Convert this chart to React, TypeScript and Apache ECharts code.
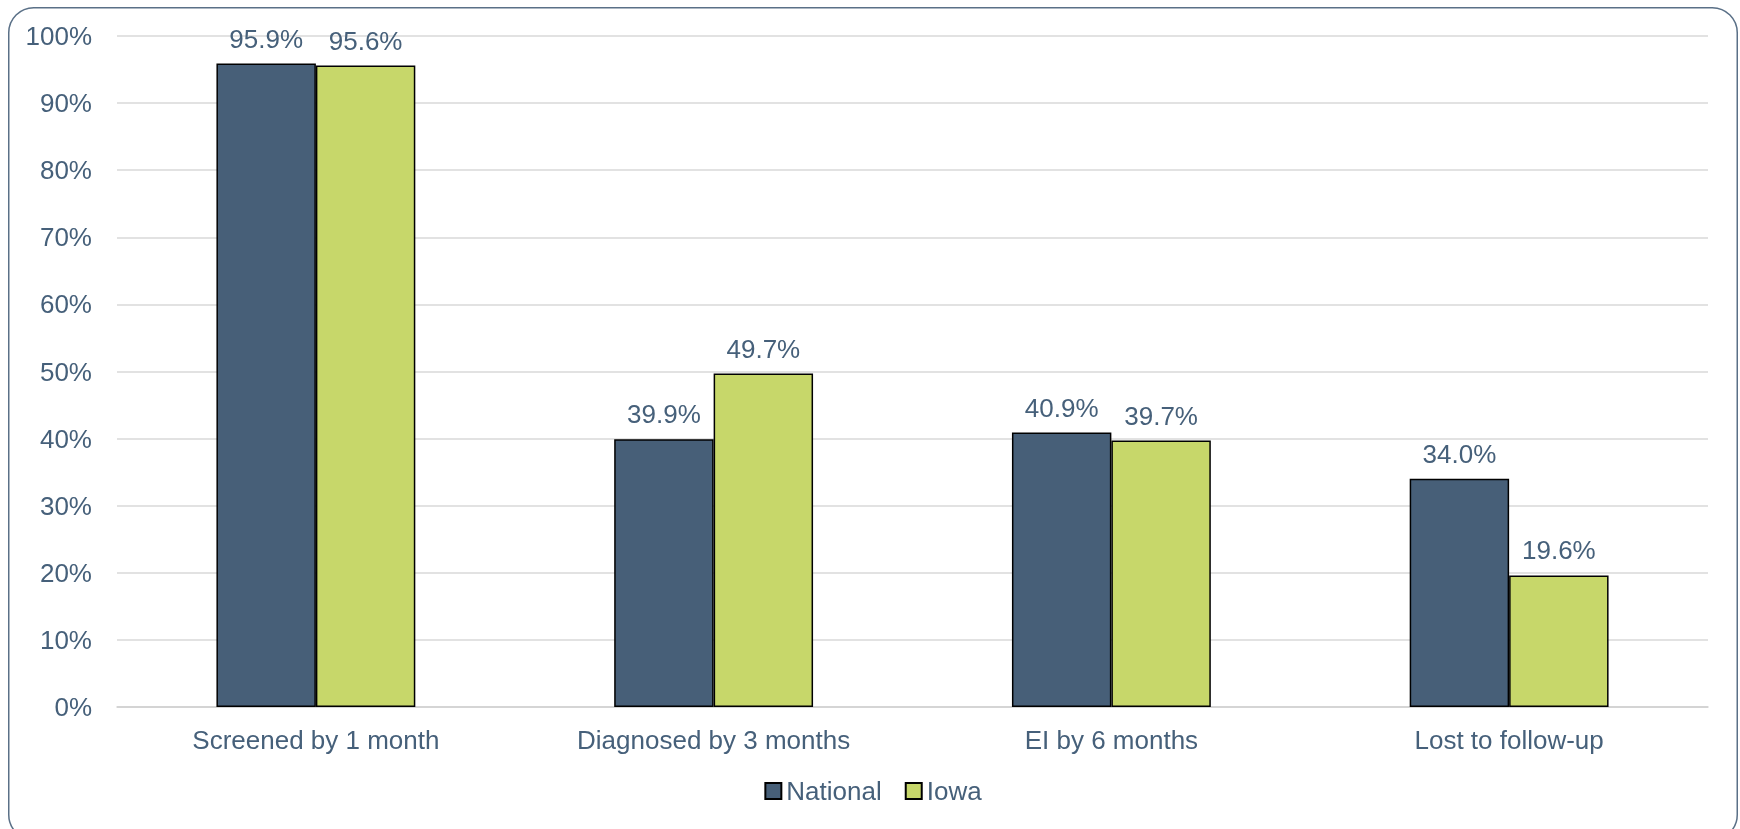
import React, { useEffect, useRef } from "react";
import * as echarts from "echarts";

const categories = ["Screened by 1 month", "Diagnosed by 3 months", "EI by 6 months", "Lost to follow-up"];
const nationalValues = [95.9, 39.9, 40.9, 34.0];
const iowaValues = [95.6, 49.7, 39.7, 19.6];
const seriesNames = ["National", "Iowa"];

const TEXT = "#46607a";
const FONT = "'Liberation Sans', Arial, sans-serif";

export default function App() {
  const ref = useRef<HTMLDivElement>(null);
  useEffect(() => {
    if (!ref.current) return;
    const chart = echarts.init(ref.current, null, { renderer: "svg" });
    const label = {
      show: true,
      position: "top",
      distance: 12,
      color: TEXT,
      fontSize: 26,
      fontFamily: FONT,
      formatter: (p: any) => Number(p.value).toFixed(1) + "%",
    };
    chart.setOption({
      animation: false,
      textStyle: { fontFamily: FONT },
      graphic: [
        {
          type: "rect",
          shape: { x: 0.75, y: 0.75, width: 1728.5, height: 832, r: 25 },
          style: { fill: "none", stroke: "#5a7087", lineWidth: 1.5 },
          silent: true,
        },
      ],
      grid: { left: 109, right: 30, top: 29, bottom: 122, containLabel: false },
      legend: {
        bottom: 20,
        left: "center",
        itemWidth: 16,
        itemHeight: 16,
        itemGap: 23,
        icon: "rect",
        textStyle: { color: TEXT, fontSize: 26, fontFamily: FONT },
        data: seriesNames,
      },
      xAxis: {
        type: "category",
        data: categories,
        axisTick: { show: false },
        axisLine: { lineStyle: { color: "#d0d0d0", width: 1.5 } },
        axisLabel: { color: TEXT, fontSize: 26, fontFamily: FONT, margin: 20 },
      },
      yAxis: {
        type: "value",
        min: 0,
        max: 100,
        interval: 10,
        axisLine: { show: false },
        axisTick: { show: false },
        splitLine: { lineStyle: { color: "#d9d9d9", width: 1.5 } },
        axisLabel: { color: TEXT, fontSize: 26, fontFamily: FONT, margin: 25, formatter: "{value}%" },
      },
      series: [
        {
          name: seriesNames[0],
          type: "bar",
          data: nationalValues,
          barGap: "0%",
          barCategoryGap: "50%",
          itemStyle: { color: "#475f78", borderColor: "#000", borderWidth: 1.5 },
          label,
        },
        {
          name: seriesNames[1],
          type: "bar",
          data: iowaValues,
          barGap: "0%",
          barCategoryGap: "50%",
          itemStyle: { color: "#c7d76a", borderColor: "#000", borderWidth: 1.5 },
          label,
        },
      ],
    });
    return () => chart.dispose();
  }, []);
  return <div ref={ref} style={{ position: "fixed", left: 8, top: 7, width: 1730, height: 822 }} />;
}
